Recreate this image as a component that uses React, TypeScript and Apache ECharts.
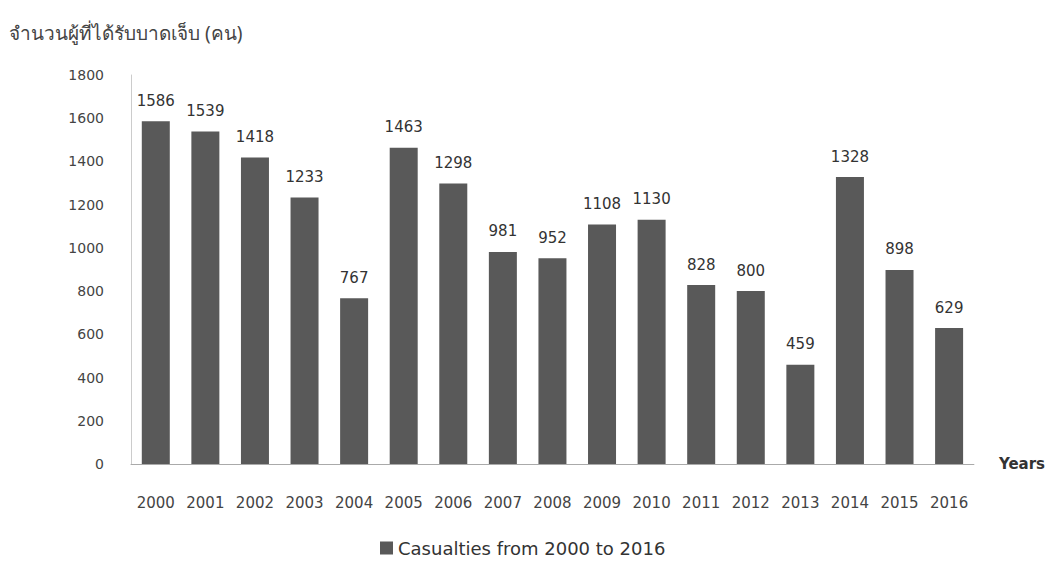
import React, { useEffect, useRef } from "react";
import * as echarts from "echarts";

const years = ["2000","2001","2002","2003","2004","2005","2006","2007","2008","2009","2010","2011","2012","2013","2014","2015","2016"];
const casualties = [1586,1539,1418,1233,767,1463,1298,981,952,1108,1130,828,800,459,1328,898,629];
const seriesName = "Casualties from 2000 to 2016";
const yTitle = "จำนวนผู้ที่ได้รับบาดเจ็บ (คน)";
const xTitle = "Years";

export default function App() {
  const ref = useRef<HTMLDivElement>(null);
  useEffect(() => {
    const chart = echarts.init(ref.current!, null, { renderer: "svg" });
    chart.setOption({
      animation: false,
      backgroundColor: "#ffffff",
      textStyle: { fontFamily: "DejaVu Sans" },
      title: {
        text: yTitle,
        left: -4,
        top: 10,
        textStyle: { fontSize: 19, fontWeight: "normal", color: "#444", fontFamily: "Noto Sans, DejaVu Sans" },
      },
      legend: {
        data: [seriesName],
        top: 526,
        left: 367,
        icon: "rect",
        itemWidth: 13,
        itemHeight: 13,
        itemGap: 10,
        textStyle: { fontSize: 18, color: "#333", fontFamily: "DejaVu Sans" },
      },
      grid: { left: 123, right: 67, top: 67, bottom: 100, containLabel: false },
      xAxis: {
        type: "category",
        data: years,
        name: xTitle,
        nameLocation: "end",
        nameGap: 25,
        nameTextStyle: { fontSize: 15, fontWeight: "bold", color: "#333", fontFamily: "DejaVu Sans", verticalAlign: "middle" },
        axisLine: { lineStyle: { color: "#aaa" } },
        axisTick: { show: false },
        axisLabel: { fontSize: 15, color: "#444", margin: 31, interval: 0 },
      },
      yAxis: {
        type: "value",
        min: 0,
        max: 1800,
        interval: 200,
        axisLine: { show: true, lineStyle: { color: "#ccc" } },
        axisTick: { show: false },
        splitLine: { show: false },
        axisLabel: { fontSize: 14, color: "#444", margin: 27, formatter: (v: number) => String(v) },
      },
      series: [
        {
          name: seriesName,
          type: "bar",
          data: casualties,
          barWidth: 28,
          itemStyle: { color: "#595959" },
          label: { show: true, position: "top", distance: 13, fontSize: 15, color: "#333", fontFamily: "DejaVu Sans" },
        },
      ],
    });
    return () => chart.dispose();
  }, []);
  return <div ref={ref} style={{ width: 1040, height: 556 }} />;
}
